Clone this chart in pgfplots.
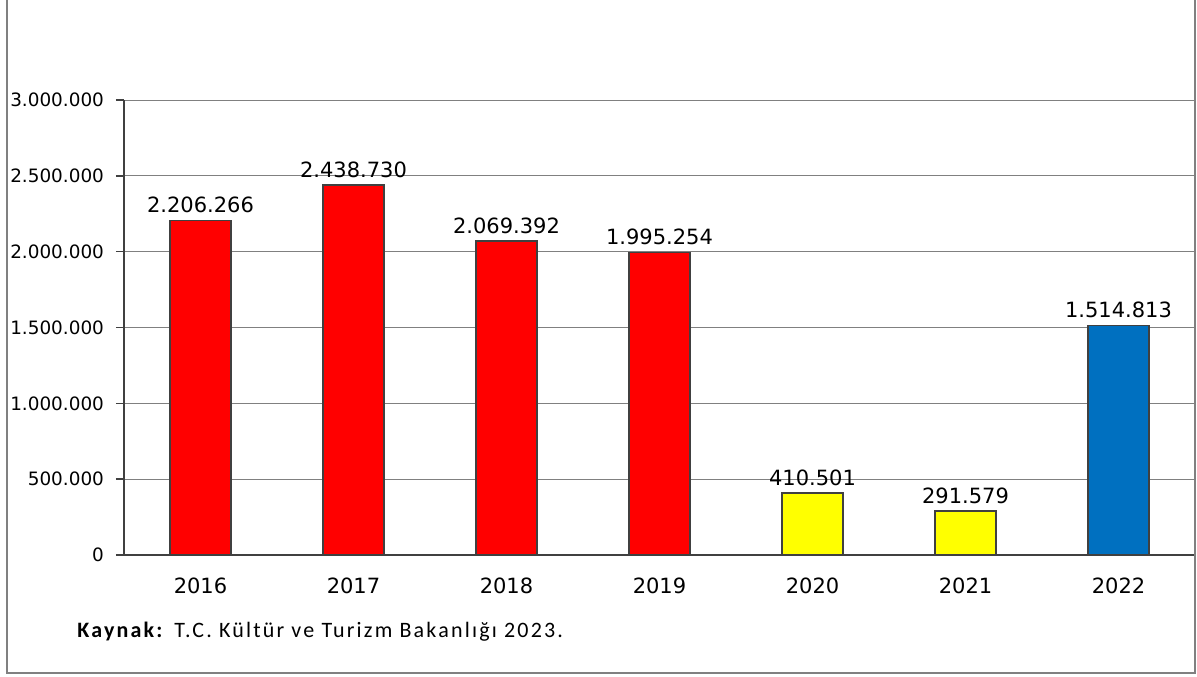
\documentclass[border=0pt]{standalone}
\usepackage{pgfplots}
\pgfplotsset{compat=1.18}
\usepackage{fontspec}
\setmainfont{DejaVu Sans}
\newfontfamily\carlito[LetterSpace=10]{Carlito}
\definecolor{barred}{HTML}{FF0000}
\definecolor{baryellow}{HTML}{FFFF00}
\definecolor{barblue}{HTML}{0070C0}
\definecolor{edge}{HTML}{404040}
\begin{document}
\begin{tikzpicture}
\path[use as bounding box] (-62pt,-60.5pt) rectangle (536.5pt,277.5pt);
\begin{axis}[
    at={(0,0)}, anchor=south west,
    scale only axis,
    width=535.5pt, height=227.5pt,
    xmin=-0.5, xmax=6.5,
    ymin=0, ymax=3000000,
    scaled y ticks=false,
    axis lines*=left,
    axis line style={edge, line width=0.75pt},
    ybar, bar width=30.5pt,
    xtick={0,...,6},
    xticklabels={2016,2017,2018,2019,2020,2021,2022},
    xtick style={draw=none},
    minor xtick={-0.5,0.5,...,6.5},
    minor x tick style={edge, line width=0.75pt},
    minor tick length=4pt,
    ytick={0,500000,1000000,1500000,2000000,2500000,3000000},
    yticklabels={0,500.000,1.000.000,1.500.000,2.000.000,2.500.000,3.000.000},
    ytick style={edge, line width=0.75pt},
    major tick length=4pt,
    tick align=outside,
    ymajorgrids,
    major grid style={gray, line width=0.5pt},
    xticklabel style={font=\fontsize{10.5}{12}\selectfont, yshift=-4pt},
    yticklabel style={font=\fontsize{9.2}{11}\selectfont, xshift=-2.5pt},
    point meta=explicit symbolic,
    nodes near coords,
    nodes near coords style={font=\fontsize{10.5}{12}\selectfont, text=black},
    every axis plot/.append style={bar shift=0pt, draw=edge, line width=0.75pt},
]
\addplot[fill=barred] coordinates {(0,2206266) [2.206.266] (1,2438730) [2.438.730] (2,2069392) [2.069.392] (3,1995254) [1.995.254]};
\addplot[fill=baryellow] coordinates {(4,410501) [410.501] (5,291579) [291.579]};
\addplot[fill=barblue] coordinates {(6,1514813) [1.514.813]};
\end{axis}
\draw[gray, line width=0.75pt] (-58.5pt,278pt) -- (-58.5pt,-59pt) -- (535.5pt,-59pt) -- (535.5pt,278pt);
\node[anchor=west, font=\carlito\fontsize{11}{13}\selectfont, inner sep=0pt] at (-23.5pt,-38.5pt) {\textbf{Kaynak:} T.C. Kültür ve Turizm Bakanlığı 2023.};
\end{tikzpicture}
\end{document}
